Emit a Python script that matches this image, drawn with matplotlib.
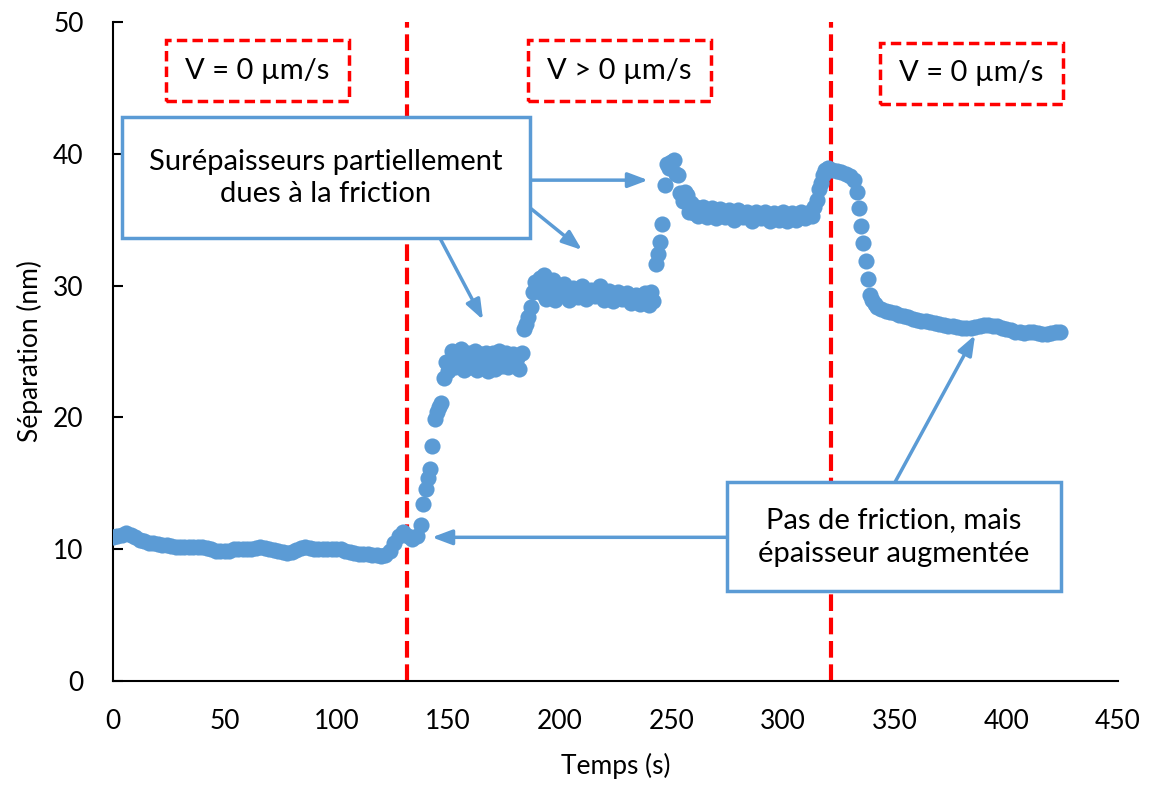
import matplotlib
matplotlib.use('Agg')
import matplotlib.pyplot as plt
from matplotlib.patches import Rectangle

plt.rcParams['font.family'] = ['Lato', 'DejaVu Sans']

# Temps (s) et séparation (nm)
temps = [0, 2, 4, 6, 8, 10, 12, 14, 16, 18, 20, 22, 24, 26, 28, 30, 32, 34, 36, 38,
         40, 42, 44, 46, 48, 50, 52, 54, 56, 58, 60, 62, 64, 66, 68, 70, 72, 74, 76, 78,
         80, 82, 84, 86, 88, 90, 92, 94, 96, 98, 100, 102, 104, 106, 108, 110, 112, 114, 116, 118,
         120, 122, 124, 126, 128, 130, 132, 134, 136,
         138, 139, 140, 141, 142, 143, 144, 145, 146, 147, 148, 149,
         150, 151, 152, 153, 154, 155, 156, 157, 158, 159, 160, 161, 162, 163, 164, 165, 166,
         167, 168, 169, 170, 171, 172, 173, 174, 175, 176, 177, 178, 179, 180, 181, 182, 183,
         184, 185, 186, 187, 188, 189, 190, 191, 192, 193, 194, 195, 196, 197, 198, 199, 200,
         202, 204, 206, 208, 210, 212, 214, 216, 218, 220, 222, 224, 226, 228, 230, 232, 234,
         236, 238, 240, 241, 242, 243, 244, 245, 246, 247, 248, 249, 250, 251, 252, 253, 254,
         255, 256, 257, 258, 259, 260, 261,
         262, 264, 266, 268, 270, 272, 274, 276, 278, 280, 282, 284, 286, 288, 290, 292, 294,
         296, 298, 300, 302, 304, 306, 308, 310, 312, 313, 314, 315, 316, 317, 318, 319, 320,
         322, 324, 326, 328, 330, 332, 333, 334, 335, 336, 337, 338, 339, 340, 341, 342,
         344, 346, 348, 350, 352, 354, 356, 358, 360, 362, 364, 366, 368, 370, 372, 374, 376,
         378, 380, 382, 384, 386, 388, 390, 392, 394, 396, 398, 400, 402, 404, 406, 408, 410,
         412, 414, 416, 418, 420, 422, 424]
separation = [10.9, 11.0, 11.1, 11.2, 11.1, 10.9, 10.7, 10.6, 10.5, 10.45, 10.4, 10.35, 10.3, 10.25, 10.2, 10.15, 10.15, 10.2, 10.2, 10.2,
              10.15, 10.1, 10.0, 9.9, 9.85, 9.85, 9.9, 10.0, 10.05, 10.05, 10.0, 10.05, 10.1, 10.15, 10.1, 10.0, 9.95, 9.85, 9.75, 9.7,
              9.8, 9.95, 10.1, 10.15, 10.1, 10.05, 10.0, 10.0, 10.0, 10.0, 10.0, 10.0, 9.9, 9.8, 9.7, 9.65, 9.6, 9.6, 9.55, 9.55,
              9.5, 9.55, 9.9, 10.5, 11.0, 11.3, 11.0, 10.8, 11.0,
              11.8, 13.4, 14.6, 15.4, 16.1, 17.8, 19.9, 20.4, 20.8, 21.1, 23.0, 24.2,
              23.5, 24.3, 25.0, 23.8, 24.8, 24.0, 25.2, 23.6, 24.6, 24.9, 23.8, 24.5, 25.0, 23.6, 24.2, 24.8, 23.9,
              24.9, 23.5, 24.4, 24.9, 23.7, 24.3, 25.0, 23.9, 24.6, 24.9, 23.8, 24.2, 24.8, 23.9, 24.5, 23.7, 24.9,
              26.7, 27.1, 27.6, 28.4, 29.5, 30.3, 29.7, 30.6, 29.4, 30.8, 29.0, 30.2, 29.6, 30.4, 28.9, 30.0, 29.3,
              30.1, 28.9, 29.8, 29.1, 30.0, 29.0, 29.7, 29.2, 30.0, 28.9, 29.6, 28.8, 29.5, 29.0, 29.4, 28.7, 29.3,
              28.6, 29.4, 28.5, 29.5, 28.8, 31.6, 32.4, 33.3, 34.7, 37.6, 39.2, 38.9, 39.4, 39.5, 38.5, 38.4, 37.0,
              36.4, 37.1, 36.9, 35.6, 36.3, 35.5, 36.0,
              35.3, 36.0, 35.2, 35.9, 35.1, 35.8, 35.2, 35.7, 35.0, 35.7, 35.2, 35.6, 34.9, 35.6, 35.1, 35.6, 34.9,
              35.5, 35.0, 35.6, 34.9, 35.5, 35.0, 35.6, 35.1, 35.6, 35.3, 36.0, 36.5, 37.3, 37.8, 38.4, 38.8, 38.9,
              38.8, 38.7, 38.6, 38.5, 38.3, 38.0, 37.1, 35.9, 34.5, 33.2, 31.9, 30.5, 29.3, 28.9, 28.6, 28.4,
              28.2, 28.1, 28.0, 27.9, 27.8, 27.7, 27.6, 27.5, 27.4, 27.35, 27.3, 27.2, 27.15, 27.1, 27.0, 26.95, 26.9,
              26.85, 26.8, 26.8, 26.8, 26.85, 26.9, 27.0, 27.0, 26.95, 26.9, 26.8, 26.7, 26.6, 26.5, 26.45, 26.4, 26.45,
              26.5, 26.4, 26.3, 26.3, 26.4, 26.5, 26.5]

bleu = '#5B9BD5'
rouge = '#FF0000'

fig, ax = plt.subplots(figsize=(11.61, 7.85), dpi=100)
fig.subplots_adjust(left=0.0973, right=0.963, top=0.972, bottom=0.1325)

ax.scatter(temps, separation, s=135, color=bleu, zorder=3, linewidths=0)

# lignes verticales (changement de vitesse)
for xv in [131.6, 321.5]:
    ax.axvline(xv, color=rouge, linestyle=(0, (4, 1.6)), linewidth=3, zorder=2)

ax.set_xlim(0, 450)
ax.set_ylim(0, 50)
ax.set_xticks(range(0, 451, 50))
ax.set_yticks(range(0, 51, 10))
ax.tick_params(axis='x', length=0, labelsize=19, pad=20)
ax.tick_params(axis='y', direction='in', length=7, width=1.5, labelsize=19, pad=21)
ax.spines['top'].set_visible(False)
ax.spines['right'].set_visible(False)
ax.spines['left'].set_linewidth(1.5)
ax.spines['bottom'].set_linewidth(1.5)
ax.set_xlabel('Temps (s)', fontsize=19, labelpad=14)
ax.set_ylabel('Séparation (nm)', fontsize=19, labelpad=7)

# cadres rouges pointillés
cadres = [(0.0527, 0.880, 'V = 0 µm/s'), (0.413, 0.880, 'V > 0 µm/s'), (0.763, 0.8756, 'V = 0 µm/s')]
for x0, y0, txt in cadres:
    ax.add_patch(Rectangle((x0, y0), 0.182, 0.0926, transform=ax.transAxes, fill=False,
                           edgecolor=rouge, linewidth=2.5, linestyle=(0, (3, 1.5)), zorder=5,
                           clip_on=False))
    ax.text(x0 + 0.091, y0 + 0.0463, txt, transform=ax.transAxes, ha='center', va='center',
            fontsize=21, zorder=6)

# flèches
fleches = [((186.7, 38.0), (239.6, 38.0)), ((186.7, 35.9), (210.0, 32.7)),
           ((146.4, 33.6), (165.7, 27.4)), ((274.9, 10.9), (142.8, 10.9)),
           ((350.2, 15.1), (386.0, 26.25))]
for start, end in fleches:
    ax.annotate('', xy=end, xytext=start,
                arrowprops=dict(arrowstyle='-|>,head_length=1.2,head_width=0.45', color=bleu,
                                lw=2.5, shrinkA=0, shrinkB=0), zorder=4)

# cadres bleus
ax.add_patch(Rectangle((0.009, 0.672), 0.406, 0.184, transform=ax.transAxes, facecolor='white',
                       edgecolor=bleu, linewidth=2.5, zorder=5))
ax.text(0.212, 0.763, 'Surépaisseurs partiellement\ndues à la friction', transform=ax.transAxes,
        ha='center', va='center', fontsize=21, linespacing=1.3, zorder=6)
ax.add_patch(Rectangle((0.611, 0.1366), 0.332, 0.165, transform=ax.transAxes, facecolor='white',
                       edgecolor=bleu, linewidth=2.5, zorder=5))
ax.text(0.777, 0.2185, 'Pas de friction, mais\népaisseur augmentée', transform=ax.transAxes,
        ha='center', va='center', fontsize=21, linespacing=1.35, zorder=6)

fig.savefig('out.png', dpi=100)
